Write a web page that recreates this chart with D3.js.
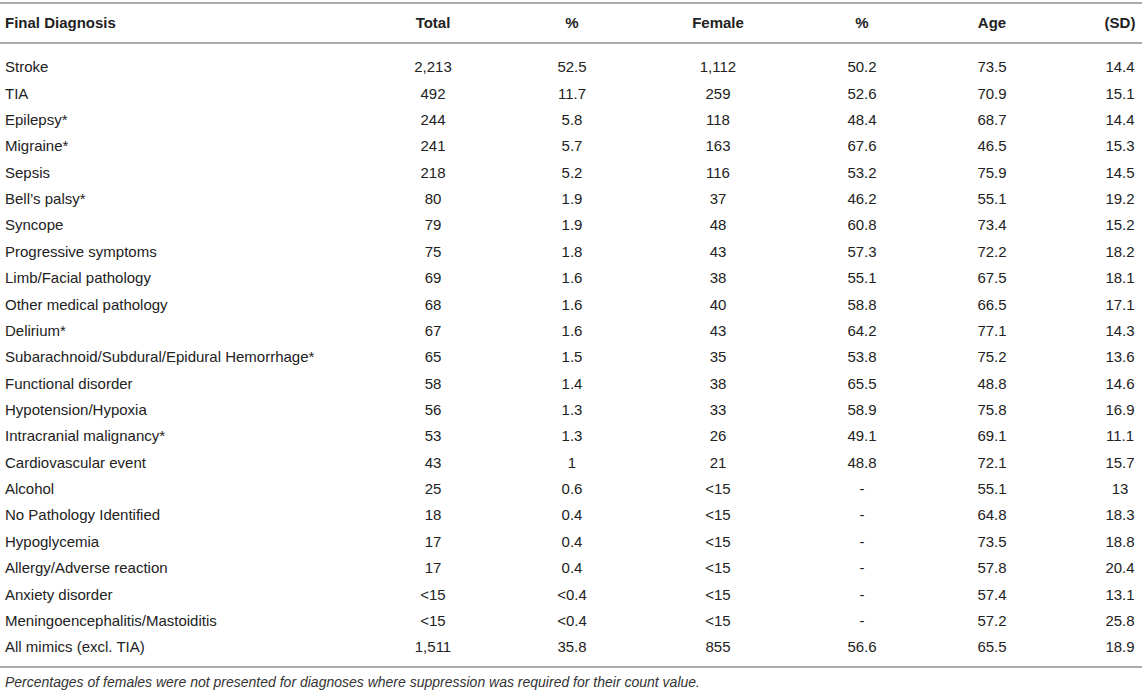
<!DOCTYPE html>
<html>
<head>
<meta charset="utf-8">
<script src="https://cdn.jsdelivr.net/npm/d3@7"></script>
<style>
  body { margin: 0; background: #fff; }
  text { font-family: "Liberation Sans", Arial, Helvetica, sans-serif; fill: #222; }
</style>
</head>
<body>
<script>
// table contents
var headers = ["Final Diagnosis", "Total", "%", "Female", "%", "Age", "(SD)"];
var diagnoses = ["Stroke", "TIA", "Epilepsy*", "Migraine*", "Sepsis", "Bell\u2019s palsy*", "Syncope",
    "Progressive symptoms", "Limb/Facial pathology", "Other medical pathology", "Delirium*",
    "Subarachnoid/Subdural/Epidural Hemorrhage*", "Functional disorder", "Hypotension/Hypoxia",
    "Intracranial malignancy*", "Cardiovascular event", "Alcohol", "No Pathology Identified",
    "Hypoglycemia", "Allergy/Adverse reaction", "Anxiety disorder", "Meningoencephalitis/Mastoiditis",
    "All mimics (excl. TIA)"];
var totals = ["2,213", "492", "244", "241", "218", "80", "79", "75", "69", "68", "67", "65", "58", "56",
    "53", "43", "25", "18", "17", "17", "<15", "<15", "1,511"];
var totalPct = ["52.5", "11.7", "5.8", "5.7", "5.2", "1.9", "1.9", "1.8", "1.6", "1.6", "1.6", "1.5", "1.4",
    "1.3", "1.3", "1", "0.6", "0.4", "0.4", "0.4", "<0.4", "<0.4", "35.8"];
var females = ["1,112", "259", "118", "163", "116", "37", "48", "43", "38", "40", "43", "35", "38", "33",
    "26", "21", "<15", "<15", "<15", "<15", "<15", "<15", "855"];
var femalePct = ["50.2", "52.6", "48.4", "67.6", "53.2", "46.2", "60.8", "57.3", "55.1", "58.8", "64.2",
    "53.8", "65.5", "58.9", "49.1", "48.8", "-", "-", "-", "-", "-", "-", "56.6"];
var ages = ["73.5", "70.9", "68.7", "46.5", "75.9", "55.1", "73.4", "72.2", "67.5", "66.5", "77.1", "75.2",
    "48.8", "75.8", "69.1", "72.1", "55.1", "64.8", "73.5", "57.8", "57.4", "57.2", "65.5"];
var sds = ["14.4", "15.1", "14.4", "15.3", "14.5", "19.2", "15.2", "18.2", "18.1", "17.1", "14.3", "13.6",
    "14.6", "16.9", "11.1", "15.7", "13", "18.3", "18.8", "20.4", "13.1", "25.8", "18.9"];
var footnote = "Percentages of females were not presented for diagnoses where suppression was required for their count value.";

var width = 1142, height = 695;
var svg = d3.select("body").append("svg")
    .attr("width", width)
    .attr("height", height);

// columns: first one left aligned, the rest centred
var columns = [diagnoses, totals, totalPct, females, femalePct, ages, sds];
var colX = d3.scaleOrdinal()
    .domain(d3.range(columns.length))
    .range([5, 433, 572, 718, 862, 992, 1120]);

// rows
var rowY = d3.scalePoint()
    .domain(d3.range(diagnoses.length))
    .range([67, 647]);

var lineColor = "#aaa";
function rule(y) {
    svg.append("line")
        .attr("x1", 0).attr("x2", width)
        .attr("y1", y).attr("y2", y)
        .attr("stroke", lineColor)
        .attr("stroke-width", 2);
}
rule(3);
rule(43);
rule(667);

// header
svg.append("g").selectAll("text")
    .data(headers)
    .join("text")
    .attr("x", function(d, i) { return colX(i); })
    .attr("y", 23)
    .attr("dy", "0.35em")
    .attr("text-anchor", function(d, i) { return i == 0 ? "start" : "middle"; })
    .attr("font-size", 15)
    .attr("font-weight", "bold")
    .text(function(d) { return d; });

// body cells
columns.forEach(function(col, ci) {
    svg.append("g").selectAll("text")
        .data(col)
        .join("text")
        .attr("x", colX(ci))
        .attr("y", function(d, i) { return rowY(i); })
        .attr("dy", "0.35em")
        .attr("text-anchor", ci == 0 ? "start" : "middle")
        .attr("font-size", 15)
        .text(function(d) { return d; });
});

svg.append("text")
    .attr("x", 5)
    .attr("y", 682)
    .attr("dy", "0.35em")
    .attr("font-size", 14)
    .attr("font-style", "italic")
    .style("fill", "#333")
    .text(footnote);
</script>
</body>
</html>
